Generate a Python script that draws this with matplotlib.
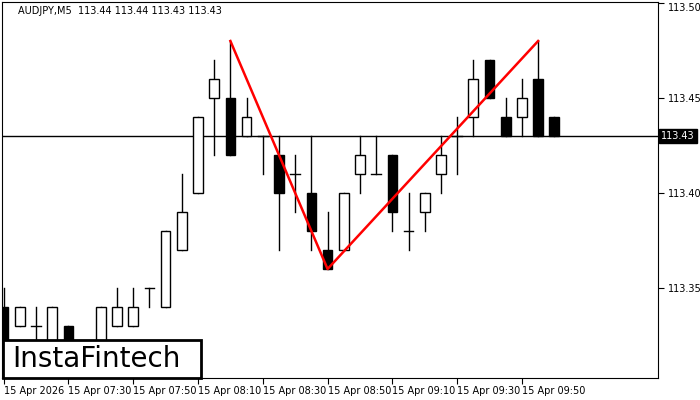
import matplotlib
matplotlib.use('Agg')
import matplotlib.pyplot as plt
from matplotlib.patches import Rectangle

# OHLC candles, M5, starting 15 Apr 07:10
opens  = [113.34, 113.33, 113.33, 113.32, 113.33, 113.31, 113.32, 113.33, 113.33, 113.35,
          113.34, 113.37, 113.40, 113.45, 113.45, 113.43, 113.43, 113.42, 113.41, 113.40,
          113.37, 113.37, 113.41, 113.41, 113.42, 113.38, 113.39, 113.41, 113.43, 113.44,
          113.47, 113.44, 113.44, 113.46, 113.44]
highs  = [113.35, 113.34, 113.34, 113.34, 113.33, 113.32, 113.34, 113.35, 113.35, 113.35,
          113.38, 113.41, 113.44, 113.47, 113.48, 113.45, 113.43, 113.43, 113.42, 113.43,
          113.39, 113.40, 113.43, 113.43, 113.42, 113.40, 113.40, 113.43, 113.44, 113.47,
          113.47, 113.45, 113.46, 113.48, 113.44]
lows   = [113.32, 113.33, 113.32, 113.32, 113.32, 113.31, 113.32, 113.33, 113.33, 113.34,
          113.34, 113.37, 113.40, 113.42, 113.42, 113.43, 113.41, 113.37, 113.39, 113.37,
          113.36, 113.37, 113.40, 113.41, 113.38, 113.37, 113.38, 113.40, 113.41, 113.43,
          113.45, 113.43, 113.43, 113.43, 113.43]
closes = [113.32, 113.34, 113.33, 113.34, 113.32, 113.32, 113.34, 113.34, 113.34, 113.35,
          113.38, 113.39, 113.44, 113.46, 113.42, 113.44, 113.43, 113.40, 113.41, 113.38,
          113.36, 113.40, 113.42, 113.41, 113.39, 113.38, 113.40, 113.42, 113.43, 113.46,
          113.45, 113.43, 113.45, 113.43, 113.43]

# double top pattern: (candle index, price)
pattern_x = [14, 20, 33]
pattern_y = [113.48, 113.36, 113.48]

tick_labels = ['15 Apr 2026', '15 Apr 07:30', '15 Apr 07:50', '15 Apr 08:10', '15 Apr 08:30',
               '15 Apr 08:50', '15 Apr 09:10', '15 Apr 09:30', '15 Apr 09:50']
tick_idx = [0, 4, 8, 12, 16, 20, 24, 28, 32]
price_ticks = [113.50, 113.45, 113.40, 113.35]
last_price = 113.43

fig = plt.figure(figsize=(7, 4), dpi=100)
ax = fig.add_axes([2/700, 22/400, 656/700, 376/400])
ax.set_xlim(-0.1, 40.4)
ax.set_ylim(113.50 - 375/1900, 113.50 + 1/1900)

w = 0.6
for i, (o, h, l, c) in enumerate(zip(opens, highs, lows, closes)):
    bull = c >= o
    ax.plot([i, i], [l, h], color='black', lw=1, zorder=2)
    lo, hi = min(o, c), max(o, c)
    if hi - lo < 1e-9:
        ax.plot([i - w/2, i + w/2], [o, o], color='black', lw=1, zorder=3)
    else:
        ax.add_patch(Rectangle((i - w/2, lo), w, hi - lo, facecolor='white' if bull else 'black',
                               edgecolor='black', lw=1, zorder=3))

ax.axhline(last_price, color='black', lw=1, zorder=1)
ax.plot(pattern_x, pattern_y, color='red', lw=1.8, zorder=4)

ax.yaxis.tick_right()
ax.set_yticks(price_ticks)
ax.set_yticklabels([f'{p:.2f}' for p in price_ticks], fontsize=7)
ax.tick_params(axis='y', length=4, pad=3)
ax.get_yticklabels()[0].set_va('top')
ax.set_xticks(tick_idx)
ax.set_xticklabels(tick_labels, fontsize=7, ha='left')
ax.tick_params(axis='x', length=4, pad=2)

ylo, yhi = ax.get_ylim()
ax.text(1.005, (last_price - ylo) / (yhi - ylo),
        f'{last_price:.2f}', transform=ax.transAxes, fontsize=7, color='white', va='center', ha='left',
        bbox=dict(boxstyle='square,pad=0.25', facecolor='black', edgecolor='black'))

ax.text(0.025, 0.99, 'AUDJPY,M5  113.44 113.44 113.43 113.43', transform=ax.transAxes,
        fontsize=7, va='top', ha='left')

# logo box
fig.patches.append(Rectangle((3/700, 22/400), 198/700, 38/400, transform=fig.transFigure,
                             facecolor='white', edgecolor='black', lw=2, zorder=10))
fig.text(96/700, 41/400, 'InstaFintech', fontsize=20, ha='center', va='center', zorder=11)

fig.savefig('out.png', dpi=100)
